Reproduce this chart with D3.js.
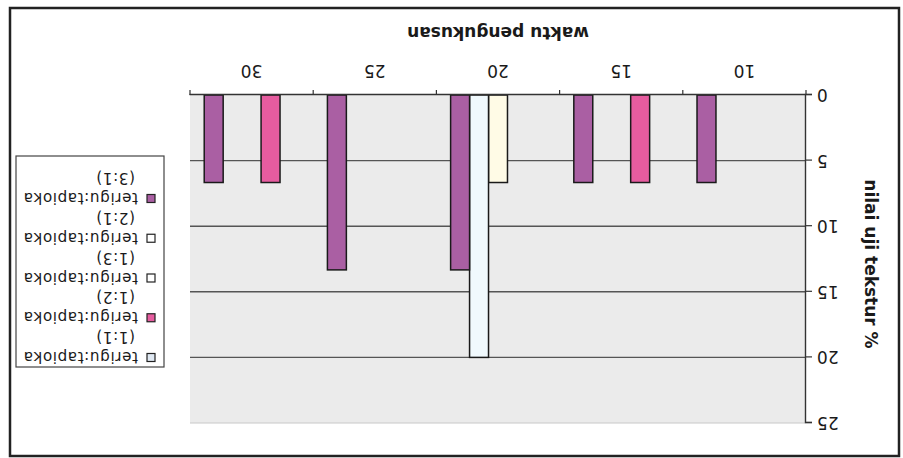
<!DOCTYPE html>
<html><head><meta charset="utf-8">
<script src="https://cdn.jsdelivr.net/npm/d3@7"></script>
<style>
html,body{margin:0;padding:0;background:#fff;}
svg{display:block;}
text{font-family:"DejaVu Sans",sans-serif;fill:#1a1a1a;}
</style></head>
<body>
<svg id="chart" width="903" height="458"></svg>
<script>
// ---- data ----
const categories = ["10", "15", "20", "25", "30"];
const seriesNames = ["terigu:tapioka (1:1)", "terigu:tapioka (1:2)", "terigu:tapioka (1:3)", "terigu:tapioka (2:1)", "terigu:tapioka (3:1)"];
const s11 = [0, 0, 0, 0, 0];
const s12 = [0, 6.67, 0, 0, 6.67];
const s13 = [0, 0, 6.67, 0, 0];
const s21 = [0, 0, 20, 0, 0];
const s31 = [6.67, 6.67, 13.33, 13.33, 6.67];
const yTicks = [0, 5, 10, 15, 20, 25];
const seriesColors = ["#dfe8f2", "#e65c9f", "#fffbe6", "#f0f9fd", "#aa5fa3"];
const legendColors = ["#dfe8f2", "#e65c9f", "#ffffff", "#ffffff", "#aa5fa3"];
const xTitle = "waktu pengukusan";
const yTitle = "nilai uji tekstur %";

const seriesValues = [s11, s12, s13, s21, s31];

const svg = d3.select("#chart");
// whole chart is drawn upside down, as in the reference
const root = svg.append("g").attr("transform", "rotate(180,451.5,229)");

root.append("rect").attr("x", 4).attr("y", 2).attr("width", 889).attr("height", 448)
  .attr("fill", "#fff").attr("stroke", "#222").attr("stroke-width", 2.5);

const plot = {left: 97, right: 713, top: 35, bottom: 363};

const x = d3.scaleBand().domain(categories).range([plot.left, plot.right]).paddingInner(0).paddingOuter(0);
const xs = d3.scaleBand().domain(d3.range(seriesNames.length)).range([0, x.bandwidth()]).paddingInner(0).paddingOuter(0.75);
const y = d3.scaleLinear().domain([0, 25]).range([plot.bottom, plot.top]);

// plot background
root.append("rect").attr("x", plot.left).attr("y", plot.top)
  .attr("width", plot.right - plot.left).attr("height", plot.bottom - plot.top)
  .attr("fill", "#ebebeb");

// gridlines
root.append("g").selectAll("line").data(yTicks.filter(d => d > 0)).join("line")
  .attr("x1", plot.left).attr("x2", plot.right)
  .attr("y1", d => y(d)).attr("y2", d => y(d))
  .attr("stroke", d => d === 25 ? "#c8c8c8" : "#555")
  .attr("stroke-width", d => d === 25 ? 1 : 1.4);

// bars
const barData = [];
seriesValues.forEach((vals, si) => vals.forEach((v, ci) => {
  if (v > 0) barData.push({si, cat: categories[ci], v});
}));
root.append("g").selectAll("rect").data(barData).join("rect")
  .attr("x", d => x(d.cat) + xs(d.si))
  .attr("y", d => y(d.v))
  .attr("width", xs.bandwidth())
  .attr("height", d => y(0) - y(d.v))
  .attr("fill", d => seriesColors[d.si])
  .attr("stroke", "#1a1a1a").attr("stroke-width", 1.5);

// y axis
const yAxis = root.append("g").attr("transform", `translate(${plot.left},0)`)
  .call(d3.axisLeft(y).tickValues(yTicks).tickSize(6).tickPadding(5).tickFormat(d3.format("d")));
yAxis.select(".domain").attr("stroke", "#333").attr("stroke-width", 1.4);
yAxis.selectAll(".tick line").attr("stroke", "#333").attr("stroke-width", 1.2);
yAxis.selectAll("text").attr("font-size", 17).attr("font-family", "DejaVu Sans").attr("fill", "#1a1a1a");

// x axis
const xAxis = root.append("g").attr("transform", `translate(0,${plot.bottom})`)
  .call(d3.axisBottom(x).tickSize(0).tickPadding(18));
xAxis.select(".domain").attr("stroke", "#333").attr("stroke-width", 1.4);
xAxis.selectAll("text").attr("font-size", 17).attr("font-family", "DejaVu Sans").attr("fill", "#1a1a1a");
const bounds = categories.map(c => x(c)).concat([x(categories[categories.length - 1]) + x.bandwidth()]);
xAxis.selectAll("line.bnd").data(bounds).join("line").attr("class", "bnd")
  .attr("x1", d => d).attr("x2", d => d).attr("y1", 0).attr("y2", 5)
  .attr("stroke", "#333").attr("stroke-width", 1.2);

// axis titles
root.append("text").attr("x", (plot.left + plot.right) / 2).attr("y", 431)
  .attr("text-anchor", "middle").attr("font-size", 17).attr("font-weight", "bold").text(xTitle);
root.append("text").attr("transform", `translate(38,${(plot.top + plot.bottom) / 2 - 5}) rotate(-90)`)
  .attr("text-anchor", "middle").attr("font-size", 17).attr("font-weight", "bold").text(yTitle);

// legend
const lg = root.append("g");
lg.append("rect").attr("x", 739).attr("y", 91).attr("width", 148).attr("height", 211)
  .attr("fill", "#fff").attr("stroke", "#444").attr("stroke-width", 1.2);
const items = lg.selectAll("g.item").data(seriesNames).join("g").attr("class", "item")
  .attr("transform", (d, i) => `translate(0,${100.5 + i * 39.75})`);
items.append("rect").attr("x", 748).attr("y", -4).attr("width", 8).attr("height", 8)
  .attr("fill", (d, i) => legendColors[i]).attr("stroke", "#222").attr("stroke-width", 1.2);
items.append("text").attr("x", 765).attr("y", 5.5).attr("font-size", 15.2).attr("letter-spacing", 0.6)
  .text(d => d.split(" ")[0]);
items.append("text").attr("x", 768).attr("y", 25.5).attr("font-size", 15.2).attr("letter-spacing", 0.6)
  .text(d => d.split(" ")[1]);
</script>
</body></html>
